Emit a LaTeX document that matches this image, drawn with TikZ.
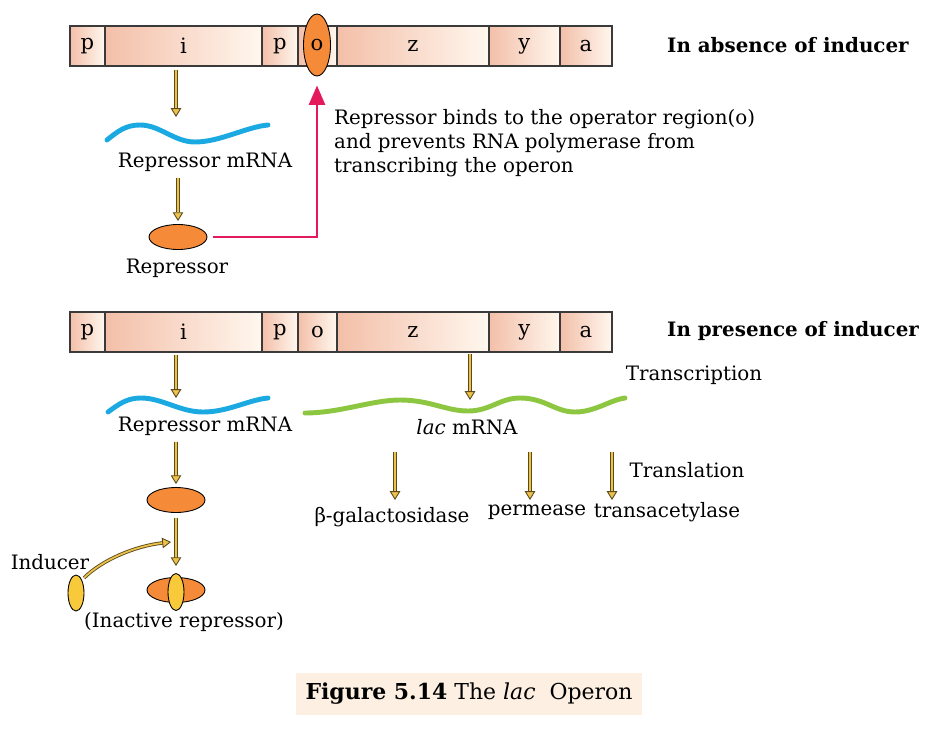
\documentclass[tikz,border=0pt]{standalone}
\usepackage{fontspec}
\setmainfont{DejaVu Serif}
\usetikzlibrary{positioning,shapes.geometric,arrows.meta}
\definecolor{geneL}{HTML}{F3BFA9}
\definecolor{geneR}{HTML}{FFF7EE}
\definecolor{genedge}{HTML}{3A3A3A}
\definecolor{reporange}{HTML}{F58A38}
\definecolor{indyellow}{HTML}{F9C93C}
\definecolor{arrowfill}{HTML}{EDC24A}
\definecolor{arrowedge}{HTML}{5A4A1E}
\definecolor{rnablue}{HTML}{1BA9E1}
\definecolor{lacgreen}{HTML}{8DC640}
\definecolor{bindred}{HTML}{E4195C}
\definecolor{capbg}{HTML}{FDF0E2}
\tikzset{
  gene/.style={draw=genedge, line width=0.7pt, left color=geneL, right color=geneR,
    minimum height=0.8cm, inner sep=0pt, outer sep=0pt, font=\fontsize{12}{14}\selectfont},
  repressor/.style={ellipse, draw=black, line width=0.5pt, fill=reporange,
    minimum width=1.16cm, minimum height=0.5cm, inner sep=0pt},
  inducer/.style={ellipse, draw=black, line width=0.5pt, fill=indyellow,
    minimum width=0.32cm, minimum height=0.72cm, inner sep=0pt},
  goldarrow/.style={draw=arrowedge, line width=0.5pt, double=arrowfill, double distance=1pt,
    -{Triangle[fill=arrowfill, length=5pt, width=6pt]}},
  bindarrow/.style={draw=bindred, line width=1.6pt, -{Triangle[length=11pt, width=9pt]}},
  rna/.style={line width=2.8pt, line cap=round}
}
\begin{document}
\begin{tikzpicture}[x=0.02cm, y=-0.02cm, font=\fontsize{11.3}{13.6}\selectfont]
  \useasboundingbox (0,0) rectangle (945,733);
  % the two operon bars
  \foreach \r/\yy in {t/26, b/312}{
    \node[gene, minimum width=0.70cm, anchor=north west] (\r p1) at (70,\yy) {p};
    \node[gene, minimum width=3.14cm, right=0pt of \r p1] (\r i) {i};
    \node[gene, minimum width=0.72cm, right=0pt of \r i] (\r p2) {p};
    \node[gene, minimum width=0.78cm, right=0pt of \r p2] (\r o) {o};
    \node[gene, minimum width=3.04cm, right=0pt of \r o] (\r z) {z};
    \node[gene, minimum width=1.42cm, right=0pt of \r z] (\r y) {y};
    \node[gene, minimum width=1.04cm, right=0pt of \r y] (\r a) {a};
  }
  \node[anchor=west] (absent) at (661,45) {\bfseries In absence of inducer};
  \node[anchor=west] (present) at (661,331) {\bfseries In presence of inducer};

  % absence of inducer
  \node[repressor, minimum width=0.54cm, minimum height=1.24cm, font=\fontsize{12}{14}\selectfont] (tob) at (317,45) {o};
  \coordinate (twave) at (176,117);
  \draw[goldarrow, shorten <=0.08cm] (twave |- ti.south) -- (twave);
  \draw[rna, rnablue] (107,140) .. controls (118,131) and (126,125) .. (140,125)
    .. controls (160,125) and (174,142) .. (195,142) .. controls (220,142) and (246,127) .. (268,125);
  \node (tmrna) at (205,162) {Repressor mRNA};
  \node[repressor] (trep) at (178,237) {};
  \draw[goldarrow, shorten >=0.06cm] (trep |- tmrna.south) -- (trep.north);
  \node (treplab) at (177,268) {Repressor};
  \draw[bindarrow, shorten <=0.12cm, shorten >=0.18cm] (trep.east) -| (tob.south);
  \node[anchor=west, align=left] (bindtxt) at (328,143)
    {Repressor binds to the operator region(o)\\and prevents RNA polymerase from\\transcribing the operon};

  % presence of inducer
  \coordinate (bwave) at (176,398);
  \draw[goldarrow, shorten <=0.06cm] (bwave |- bi.south) -- (bwave);
  \draw[rna, rnablue] (108,412) .. controls (119,404) and (127,398) .. (141,398)
    .. controls (162,398) and (180,412) .. (203,412) .. controls (228,412) and (248,400) .. (268,398);
  \node (bmrna) at (205,426) {Repressor mRNA};
  \node[repressor] (brep) at (176,500) {};
  \draw[goldarrow, shorten >=0.06cm] (brep |- bmrna.south) -- (brep.north);
  \node[repressor] (binact) at (176,590) {};
  \node[inducer, minimum height=0.74cm] (bind) at (176,592) {};
  \draw[goldarrow, shorten <=0.1cm, shorten >=0.14cm] (brep.south) -- (bind.north);
  \node[inducer] (ind) at (76,593) {};
  \node (indlab) at (50,562) {Inducer};
  \coordinate (bjoin) at (171,542);
  \draw[goldarrow, shorten <=0.06cm] (ind.north east) .. controls (102,560) and (135,546) .. (bjoin);
  \node (inactlab) at (184,622) {(Inactive repressor)};

  \coordinate (gwave) at (470,400);
  \draw[goldarrow, shorten <=0.04cm] (gwave |- bz.south) -- (gwave);
  \draw[rna, lacgreen] (305,413) .. controls (340,413) and (372,400) .. (400,400)
    .. controls (430,400) and (446,411) .. (468,411) .. controls (490,411) and (500,398) .. (520,398)
    .. controls (545,398) and (555,412) .. (575,412) .. controls (595,412) and (610,400) .. (625,398);
  \node (lacm) at (467,427) {\textit{lac} mRNA};
  \node (trsc) at (694,375) {Transcription};
  \coordinate (tl1) at (395,452);
  \coordinate (tl2) at (530,452);
  \coordinate (tl3) at (612,452);
  \draw[goldarrow] (tl1) -- ++(0,48);
  \draw[goldarrow] (tl2) -- ++(0,48);
  \draw[goldarrow] (tl3) -- ++(0,48);
  \node (trsl) at (687,470) {Translation};
  \node (bgal) at (392,517) {β-galactosidase};
  \node (perm) at (537,512) {permease};
  \node (trans) at (667,512) {transacetylase};

  \node[fill=capbg, minimum width=6.92cm, minimum height=0.84cm, font=\fontsize{12.5}{15}\selectfont] (cap) at (469,694)
    {\textbf{Figure 5.14} The \textit{lac}\ \ Operon};
\end{tikzpicture}
\end{document}
